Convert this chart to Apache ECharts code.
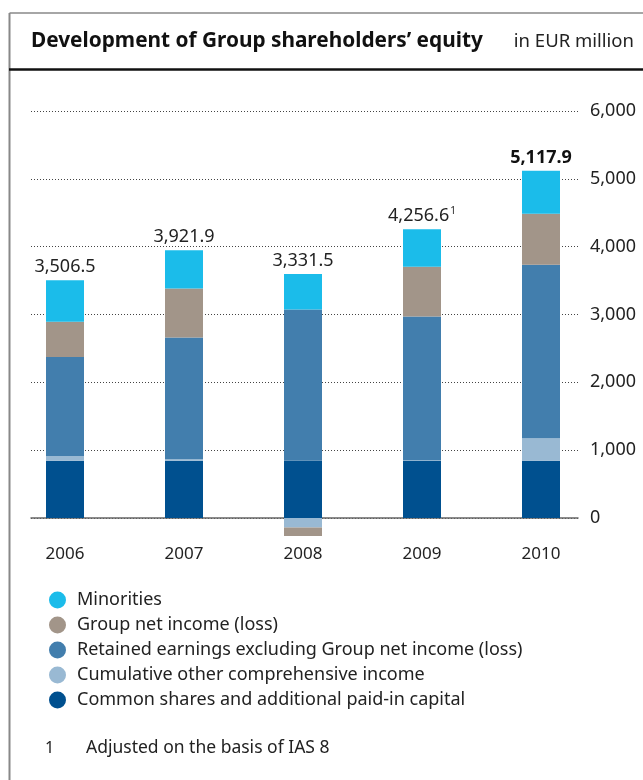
<!DOCTYPE html>
<html><head><meta charset="utf-8">
<script src="https://cdn.jsdelivr.net/npm/echarts@6/dist/echarts.min.js"></script>
<style>html,body{margin:0;padding:0;background:#fff}#c{width:643px;height:780px}</style>
</head><body><div id="c"></div>
<script>
var years = ['2006', '2007', '2008', '2009', '2010'];
var commonShares = [845, 845, 845, 845, 845];
var cumulativeOCI = [70, 22, -140, 8, 331];
var retainedEarnings = [1458, 1795, 2229, 2118, 2559];
var groupNetIncome = [521, 722, -127, 734, 749];
var minorities = [612, 565, 524, 552, 634];
var totalLabels = ['3,506.5', '3,921.9', '3,331.5', '4,256.6', '5,117.9'];
var yTicks = [0, 1000, 2000, 3000, 4000, 5000, 6000];

var FONT = '"Noto Sans", "Open Sans", sans-serif';
var colors = {
  common: '#00508F', oci: '#99B9D3', retained: '#427EAD', ni: '#A29589', min: '#1BBCEA'
};

var chart = echarts.init(document.getElementById('c'), null, {renderer: 'canvas'});

function barSeries(name, data, color, extra) {
  var s = {
    name: name, type: 'bar', stack: 'eq', data: data, barWidth: 38,
    xAxisIndex: 0, yAxisIndex: 0, clip: false,
    itemStyle: {color: color}, emphasis: {disabled: true}, z: 3
  };
  if (extra) Object.assign(s, extra);
  return s;
}

var option = {
  animation: false,
  textStyle: {fontFamily: FONT},
  grid: [
    {left: 5.5, right: 42.5, top: 111, bottom: 262},
    {left: 31, right: 65, top: 111, bottom: 262}
  ],
  xAxis: [
    {type: 'category', gridIndex: 0, data: years,
     axisLine: {show: false}, axisTick: {show: false},
     axisLabel: {color: '#222', fontSize: 17, margin: 28, fontFamily: FONT}},
    {type: 'category', gridIndex: 1, data: years,
     axisLine: {show: true, lineStyle: {color: '#666', width: 1.5}},
     axisTick: {show: false}, axisLabel: {show: false}}
  ],
  yAxis: [
    {type: 'value', gridIndex: 0, min: 0, max: 6000, interval: 1000,
     axisLine: {show: false}, axisTick: {show: false}, axisLabel: {show: false}, splitLine: {show: false}},
    {type: 'value', gridIndex: 1, position: 'right', min: 0, max: 6000, interval: 1000,
     axisLine: {show: false}, axisTick: {show: false},
     axisLabel: {color: '#222', fontSize: 18, margin: 12, fontFamily: FONT,
       formatter: function (v) { return v === 0 ? '0' : v.toLocaleString('en-US'); }},
     splitLine: {show: true, lineStyle: {color: '#444', width: 1, type: [1, 2]}}}
  ],
  legend: {
    orient: 'vertical', left: 44, top: 586, icon: 'circle',
    itemWidth: 17, itemHeight: 17, itemGap: 7,
    textStyle: {fontSize: 18, color: '#222', fontFamily: FONT, padding: [0, 0, 0, 6]},
    data: ['Minorities', 'Group net income (loss)', 'Retained earnings excluding Group net income (loss)',
           'Cumulative other comprehensive income', 'Common shares and additional paid-in capital'],
    selectedMode: false
  },
  series: [
    barSeries('Common shares and additional paid-in capital', commonShares, colors.common),
    barSeries('Cumulative other comprehensive income', cumulativeOCI, colors.oci),
    barSeries('Retained earnings excluding Group net income (loss)', retainedEarnings, colors.retained),
    barSeries('Group net income (loss)', groupNetIncome, colors.ni),
    barSeries('Minorities', minorities, colors.min, {
      label: {
        show: true, position: 'top', distance: 4,
        formatter: function (p) {
          var t = totalLabels[p.dataIndex];
          if (p.dataIndex === 4) return '{b|' + t + '}';
          if (p.dataIndex === 3) return '{a|' + t + '}{s|1}';
          return '{a|' + t + '}';
        },
        rich: {
          a: {fontSize: 18, color: '#222', fontFamily: FONT},
          b: {fontSize: 18, color: '#111', fontWeight: 'bold', fontFamily: FONT},
          s: {fontSize: 10, color: '#222', fontFamily: FONT, verticalAlign: 'top', padding: [0, 0, 9, 1]}
        }
      }
    })
  ],
  graphic: [
    {type: 'line', shape: {x1: 9.5, y1: 13, x2: 643, y2: 13}, style: {stroke: '#888', lineWidth: 1.5}},
    {type: 'line', shape: {x1: 9.5, y1: 13, x2: 9.5, y2: 780}, style: {stroke: '#888', lineWidth: 2}},
    {type: 'line', shape: {x1: 9, y1: 69.5, x2: 643, y2: 69.5}, style: {stroke: '#111', lineWidth: 2.5}},
    {type: 'text', left: 31, top: 31, style: {text: 'Development of Group shareholders\u2019 equity',
      fontSize: 20.8, fontWeight: 'bold', fill: '#111', fontFamily: FONT}},
    {type: 'text', right: 9, top: 32, style: {text: 'in EUR million',
      fontSize: 18.5, fill: '#222', fontFamily: FONT}},
    {type: 'text', left: 45, top: 740, style: {text: '1', fontSize: 16, fill: '#222', fontFamily: FONT}},
    {type: 'text', left: 86, top: 739, style: {text: 'Adjusted on the basis of IAS 8', fontSize: 17.5, fill: '#222', fontFamily: FONT}}
  ]
};
chart.setOption(option);
</script></body></html>
